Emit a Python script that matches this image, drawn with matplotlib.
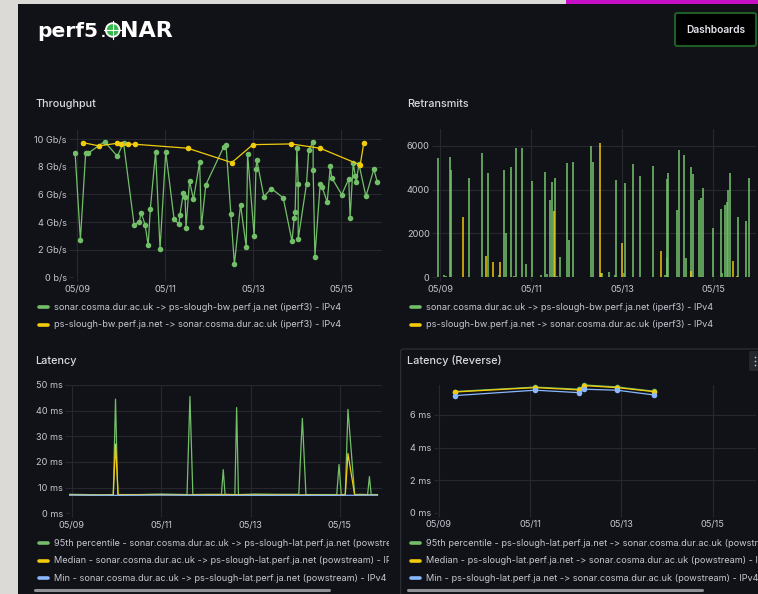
import numpy as np
import matplotlib.pyplot as plt
from matplotlib.patches import Rectangle, Circle, FancyBboxPatch

W, H = 758, 594
BG = '#111217'
TXT = '#c7c7d1'
GRID = '#26282e'
GREEN = '#73bf69'
YELLOW = '#f2cc0c'
BLUE = '#8ab8ff'

# days after 05/09
tick_days = [0, 2, 4, 6]
tick_labels = ['05/09', '05/11', '05/13', '05/15']

# throughput (Gb/s)
tp_fwd_t = [-0.05, 0.07, 0.19, 0.25, 0.62, 0.91, 1.05, 1.29, 1.41, 1.45, 1.54, 1.61, 1.66, 1.78,
            1.88, 2.01, 2.20, 2.31, 2.33, 2.41, 2.45, 2.47, 2.55, 2.64, 2.78, 2.82, 2.92, 3.33,
            3.38, 3.49, 3.57, 3.71, 3.84, 3.87, 4.02, 4.06, 4.08, 4.24, 4.41, 4.68, 4.88, 4.93,
            4.95, 4.99, 5.02, 5.02, 5.21, 5.26, 5.36, 5.36, 5.40, 5.52, 5.56, 5.68, 5.75, 5.78,
            6.01, 6.17, 6.20, 6.27, 6.32, 6.34, 6.40, 6.56, 6.74, 6.82]
tp_fwd_v = [9.0, 2.73, 9.0, 9.0, 9.83, 8.77, 9.76, 3.82, 4.03, 4.69, 3.82, 2.32, 4.98, 9.08,
            2.05, 9.08, 4.2, 3.86, 4.49, 6.09, 5.85, 3.57, 6.98, 5.65, 8.36, 3.67, 6.69, 9.47,
            9.57, 4.59, 0.94, 5.27, 2.17, 8.91, 2.99, 7.87, 8.48, 5.85, 6.43, 5.75, 2.61, 4.3,
            4.76, 9.4, 6.79, 2.75, 6.79, 9.23, 9.83, 7.78, 1.5, 6.74, 6.57, 5.46, 8.04, 7.22,
            5.99, 7.13, 4.30, 8.26, 7.34, 6.91, 8.21, 5.87, 7.83, 6.88]
tp_rev_t = [0.12, 0.49, 0.91, 0.99, 1.16, 1.30, 2.51, 3.51, 3.99, 4.86, 5.52, 6.43, 6.51]
tp_rev_v = [9.76, 9.52, 9.71, 9.64, 9.64, 9.64, 9.35, 8.31, 9.61, 9.66, 9.35, 8.14, 9.71]

# retransmits
rt_fwd_t = [-0.044, 0.081, 0.139, 0.220, 0.249, 0.637, 0.916, 1.055, 1.297, 1.414, 1.451, 1.553,
            1.626, 1.663, 1.802, 1.883, 2.029, 2.212, 2.315, 2.344, 2.425, 2.454, 2.527, 2.571,
            2.645, 2.791, 2.828, 2.916, 3.319, 3.370, 3.568, 3.714, 3.846, 3.868, 4.044, 4.073,
            4.234, 4.403, 4.681, 4.952, 4.982, 4.996, 5.018, 5.209, 5.245, 5.370, 5.399, 5.509,
            5.553, 5.685, 5.736, 5.773, 6.007, 6.168, 6.190, 6.271, 6.315, 6.337, 6.366, 6.549,
            6.733, 6.799]
rt_fwd_v = [5430, 90, 50, 5470, 4890, 4510, 5670, 4750, 90, 4880, 2040, 5010,
            50, 5890, 5890, 620, 4390, 100, 4800, 160, 3510, 4340, 4530, 80,
            910, 5200, 1690, 5270, 6000, 5260, 200, 230, 100, 4450, 180, 4300,
            5150, 4600, 5070, 90, 940, 4480, 4750, 3050, 5790, 5580, 900, 5010,
            4720, 3510, 3630, 4060, 2230, 3130, 210, 3280, 3430, 4000, 4740, 2760,
            2570, 4510]
rt_rev_t = [0.498, 1.004, 1.165, 1.311, 2.498, 3.516, 3.538, 3.992, 4.857, 5.516, 6.440, 6.520]
rt_rev_v = [2730, 960, 680, 680, 3020, 6120, 200, 1580, 1200, 290, 730, 60]

# latency (ms)
p95_t = [-0.05, 0.35, 0.70, 0.93, 0.98, 1.03, 1.5, 2.0, 2.58, 2.645, 2.71, 3.0, 3.35, 3.39,
         3.43, 3.65, 3.69, 3.73, 4.1, 4.6, 5.08, 5.16, 5.24, 5.6, 5.93, 5.98, 6.03, 6.12,
         6.18, 6.33, 6.45, 6.62, 6.66, 6.70, 6.84]
p95_v = [7.4, 7.3, 7.2, 7.3, 44.5, 7.3, 7.3, 7.5, 7.3, 45.5, 7.3, 7.4, 7.4, 17.0,
         7.4, 7.3, 41.2, 7.3, 7.5, 7.4, 7.4, 37.0, 7.3, 7.3, 7.3, 19.0, 7.3, 7.3,
         40.5, 7.3, 7.4, 7.3, 14.3, 7.3, 7.3]
med_t = [-0.05, 0.5, 0.93, 0.98, 1.04, 1.8, 2.6, 3.4, 4.2, 5.0, 5.8, 6.12, 6.18, 6.33, 6.84]
med_v = [7.2, 7.1, 7.2, 27.0, 7.2, 7.3, 7.2, 7.3, 7.2, 7.2, 7.1, 7.2, 23.3, 7.2, 7.2]
min_t = [-0.05, 1.0, 2.0, 3.0, 4.0, 5.0, 6.0, 6.84]
min_v = [7.1, 7.0, 7.1, 7.0, 7.0, 7.0, 7.0, 7.1]

# latency reverse (ms)
rev_t = [0.35, 2.11, 3.07, 3.19, 3.90, 4.71]
rev_p95 = [7.44, 7.71, 7.58, 7.84, 7.72, 7.46]
rev_med = [7.41, 7.68, 7.54, 7.80, 7.68, 7.43]
rev_min = [7.19, 7.52, 7.37, 7.58, 7.52, 7.23]

tp_legend = ['sonar.cosma.dur.ac.uk -> ps-slough-bw.perf.ja.net (iperf3) - IPv4',
             'ps-slough-bw.perf.ja.net -> sonar.cosma.dur.ac.uk (iperf3) - IPv4']
lat_legend = ['95th percentile - sonar.cosma.dur.ac.uk -> ps-slough-lat.perf.ja.net (powstream) - IPv4',
              'Median - sonar.cosma.dur.ac.uk -> ps-slough-lat.perf.ja.net (powstream) - IPv4',
              'Min - sonar.cosma.dur.ac.uk -> ps-slough-lat.perf.ja.net (powstream) - IPv4']
rev_legend = ['95th percentile - ps-slough-lat.perf.ja.net -> sonar.cosma.dur.ac.uk (powstream) - IPv4',
              'Median - ps-slough-lat.perf.ja.net -> sonar.cosma.dur.ac.uk (powstream) - IPv4',
              'Min - ps-slough-lat.perf.ja.net -> sonar.cosma.dur.ac.uk (powstream) - IPv4']

plt.rcParams['font.family'] = ['Inter', 'DejaVu Sans']

fig = plt.figure(figsize=(W / 100, H / 100), dpi=100)
fig.patch.set_facecolor(BG)


def rect(l, t, r, b):
    return [l / W, 1 - b / H, (r - l) / W, (b - t) / H]


def pixel_axes(l, t, r, b, z):
    ax = fig.add_axes(rect(l, t, r, b), zorder=z)
    ax.set_xlim(l, r)
    ax.set_ylim(b, t)
    ax.axis('off')
    return ax


# page background, header
page = pixel_axes(0, 0, W, H, -1)
page.add_patch(Rectangle((0, 0), 18, H, color='#dcdad6', lw=0))
page.add_patch(Rectangle((0, 0), W, 3.5, color='#dcdad6', lw=0))
page.add_patch(Rectangle((566, 0), W - 566, 3.5, color='#c80fc8', lw=0))
page.text(37, 37, 'perf5', color='white', fontsize=14.5, fontweight='bold',
          family='DejaVu Sans', va='baseline')
page.text(100.5, 37, '.', color='white', fontsize=9, fontweight='bold',
          family='DejaVu Sans', va='baseline')
page.add_patch(Circle((112.7, 30), 6.8, facecolor='#34b84a', edgecolor='white', lw=1.3))
page.plot([104, 121.5], [30, 30], color='white', lw=0.8)
page.plot([112.7, 112.7], [21, 39], color='white', lw=0.8)
page.text(120, 37, 'NAR', color='white', fontsize=16, fontweight='bold',
          family='DejaVu Sans', va='baseline')
page.add_patch(FancyBboxPatch((675, 13), 81, 33, boxstyle='round,pad=0,rounding_size=2',
                              facecolor='black', edgecolor='#1f5c26', lw=1.5))
page.text(715.5, 30, 'Dashboards', color='#e6e6ee', fontsize=7.3, fontweight='semibold',
          ha='center', va='center')

# panels (titles and legends)
p_tp = pixel_axes(20, 88, 389, 340, 0)
p_rt = pixel_axes(400, 88, W, 340, 0)
p_lat = pixel_axes(20, 345, 389, H, 0)
p_rev = pixel_axes(400, 345, W, H, 0)

p_rev.add_patch(FancyBboxPatch((400.5, 349), 370, 260, boxstyle='round,pad=0,rounding_size=3',
                               facecolor='none', edgecolor='#2b2d34', lw=1))
p_rev.add_patch(FancyBboxPatch((749, 351), 14, 20, boxstyle='round,pad=0,rounding_size=2',
                               facecolor='#25272e', edgecolor='none'))
p_rev.scatter([754.5] * 3, [357, 361, 365], s=1.5, color='#c0c0c8', lw=0)

for pan, x0, title, ty in [(p_tp, 35, 'Throughput', 104), (p_rt, 407, 'Retransmits', 104),
                           (p_lat, 35, 'Latency', 361), (p_rev, 407, 'Latency (Reverse)', 361)]:
    pan.text(x0, ty, title, color='#d8d9e0', fontsize=7.8, fontweight='medium', va='center')


def legend(pan, x0, ys, labels, colors):
    for y, lab, c in zip(ys, labels, colors):
        pan.plot([x0 + 2, x0 + 11], [y, y], color=c, lw=2.6, solid_capstyle='round')
        pan.text(x0 + 17, y, lab, color=TXT, fontsize=6.6, va='center', clip_on=True)


legend(p_tp, 37, [307.5, 325], tp_legend, [GREEN, YELLOW])
legend(p_rt, 409, [307.5, 325], tp_legend, [GREEN, YELLOW])
legend(p_lat, 37, [543.3, 560.7, 578.3], lat_legend, [GREEN, YELLOW, BLUE])
legend(p_rev, 409, [543.3, 560.7, 578.3], rev_legend, [GREEN, YELLOW, BLUE])
p_lat.plot([35, 329], [590.5, 590.5], color='#8e9096', lw=2.2, solid_capstyle='round')
p_rev.plot([408, 702], [590.5, 590.5], color='#8e9096', lw=2.2, solid_capstyle='round')


def plot_axes(l, t, r, b, xlim, ylim, yticks, ylabels):
    ax = fig.add_axes(rect(l, t, r, b), zorder=1)
    ax.set_facecolor('none')
    ax.set_xlim(*xlim)
    ax.set_ylim(*ylim)
    ax.set_xticks(tick_days, tick_labels)
    ax.set_yticks(yticks, ylabels)
    for s in ax.spines.values():
        s.set_visible(False)
    ax.grid(True, color=GRID, lw=0.8)
    ax.set_axisbelow(True)
    ax.tick_params(colors=TXT, labelsize=6.6, length=3, color=GRID, pad=1.5)
    ax.tick_params(axis='x', pad=2.5)
    return ax


# Throughput
ax1 = plot_axes(73, 130, 382, 277.3, (-0.098, 6.925), (0, 10.67),
                [0, 2, 4, 6, 8, 10], ['0 b/s', '2 Gb/s', '4 Gb/s', '6 Gb/s', '8 Gb/s', '10 Gb/s'])
ax1.plot(tp_fwd_t, tp_fwd_v, color=GREEN, lw=0.9, marker='o', ms=4, mec='none')
ax1.plot(tp_rev_t, tp_rev_v, color=YELLOW, lw=0.9, marker='o', ms=4, mec='none')

# Retransmits
ax2 = plot_axes(436, 129, 756, 277.3, (-0.088, 6.945), (0, 6760),
                [0, 2000, 4000, 6000], ['0', '2000', '4000', '6000'])
ax2.bar(rt_fwd_t, rt_fwd_v, width=0.038, color=GREEN, alpha=0.8, lw=0)
ax2.bar(rt_rev_t, rt_rev_v, width=0.038, color=YELLOW, alpha=0.75, lw=0)

# Latency
ax3 = plot_axes(69.3, 385, 381.7, 513.3, (-0.054, 6.935), (0, 50),
                [0, 10, 20, 30, 40, 50], ['0 ms', '10 ms', '20 ms', '30 ms', '40 ms', '50 ms'])
ax3.plot(p95_t, p95_v, color=GREEN, lw=0.9)
ax3.plot(med_t, med_v, color=YELLOW, lw=0.9)
ax3.plot(min_t, min_v, color=BLUE, lw=0.9)

# Latency (Reverse)
ax4 = plot_axes(437.6, 385, 756, 512.7, (-0.03, 6.95), (0, 7.84),
                [0, 2, 4, 6], ['0 ms', '2 ms', '4 ms', '6 ms'])
for vals, c in [(rev_p95, GREEN), (rev_med, YELLOW), (rev_min, BLUE)]:
    ax4.plot(rev_t, vals, color=c, lw=0.9, marker='o', ms=4, mec='none', clip_on=False)

fig.savefig('out.png', dpi=100, facecolor=fig.get_facecolor())
